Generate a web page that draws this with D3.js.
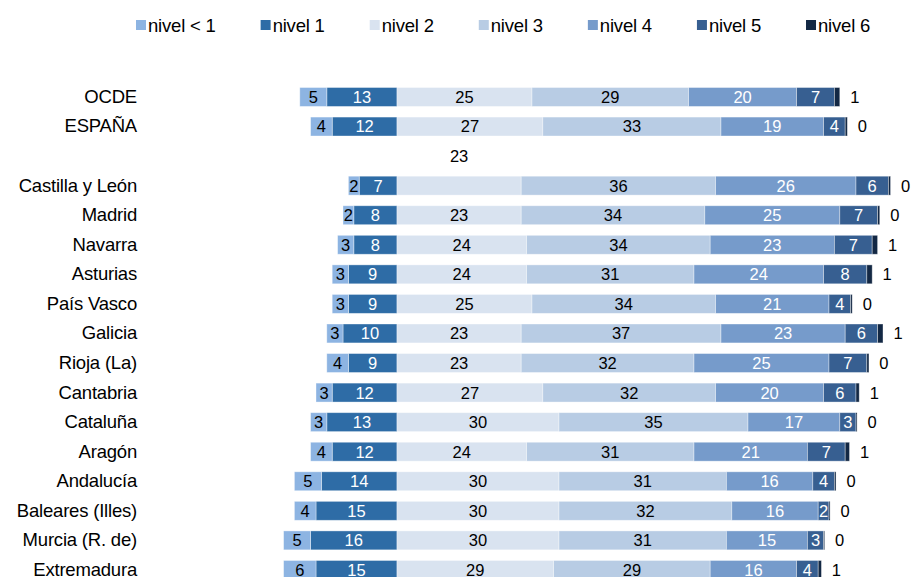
<!DOCTYPE html>
<html lang="es">
<head>
  <meta charset="UTF-8">
  <title>Niveles de rendimiento por comunidad</title>
  <script src="https://d3js.org/d3.v7.min.js"></script>
  <style>
    body { margin: 0; background: #fff; }
    text { font-family: "Liberation Sans", Arial, sans-serif; }
  </style>
</head>
<body>
<div id="chart"></div>
<script>
// rows (blank entry = empty gap row)
var regions = ["OCDE", "ESPAÑA", " ", "Castilla y León", "Madrid", "Navarra", "Asturias",
  "País Vasco", "Galicia", "Rioja (La)", "Cantabria", "Cataluña", "Aragón", "Andalucía",
  "Baleares (Illes)", "Murcia (R. de)", "Extremadura"];

var levels = ["nivel < 1", "nivel 1", "nivel 2", "nivel 3", "nivel 4", "nivel 5", "nivel 6"];

// percentage of students at each level, per row (null for the gap row)
var nivelMenos1 = [5, 4, null, 2, 2, 3, 3, 3, 3, 4, 3, 3, 4, 5, 4, 5, 6];
var nivel1      = [13, 12, null, 7, 8, 8, 9, 9, 10, 9, 12, 13, 12, 14, 15, 16, 15];
var nivel2      = [25, 27, null, 23, 23, 24, 24, 25, 23, 23, 27, 30, 24, 30, 30, 30, 29];
var nivel3      = [29, 33, null, 36, 34, 34, 31, 34, 37, 32, 32, 35, 31, 31, 32, 31, 29];
var nivel4      = [20, 19, null, 26, 25, 23, 24, 21, 23, 25, 20, 17, 21, 16, 16, 15, 16];
var nivel5      = [7, 4, null, 6, 7, 7, 8, 4, 6, 7, 6, 3, 7, 4, 2, 3, 4];
var nivel6      = [1, 0.4, null, 0.4, 0.4, 1, 1, 0.3, 1, 0.4, 0.6, 0.2, 0.8, 0.3, 0.2, 0.2, 0.6];

var colors = ["#8db4e2", "#2e6ca6", "#d9e3f0", "#b8cce4", "#769bcb", "#375f91", "#132844"];
var labelColors = ["#000", "#fff", "#000", "#000", "#fff", "#fff", "#000"];

var width = 913, height = 577;

var svg = d3.select("#chart").append("svg")
  .attr("width", width)
  .attr("height", height);

var series = [nivelMenos1, nivel1, nivel2, nivel3, nivel4, nivel5, nivel6];

var x = d3.scaleLinear()
  .domain([-20, 95])
  .range([397 - 20 * 5.4, 397 + 95 * 5.4]);

var y = d3.scaleBand()
  .domain(regions)
  .range([82.2, 82.2 + regions.length * 29.56])
  .paddingInner(0.36)
  .paddingOuter(0.18);

// build segments: levels < 1 and 1 go left of zero, the rest to the right
var segments = [];
regions.forEach(function(r, i) {
  if (nivel1[i] == null) return;
  var left = 0;
  for (var k = 1; k >= 0; k--) {
    var v = series[k][i];
    segments.push({ region: r, level: k, value: v, x0: left - v, x1: left });
    left -= v;
  }
  var right = 0;
  for (var k = 2; k < levels.length; k++) {
    var v = series[k][i];
    segments.push({ region: r, level: k, value: v, x0: right, x1: right + v });
    right += v;
  }
});

var g = svg.append("g");

g.selectAll("rect")
  .data(segments)
  .join("rect")
  .attr("x", d => x(d.x0))
  .attr("y", d => y(d.region))
  .attr("width", d => x(d.x1) - x(d.x0))
  .attr("height", y.bandwidth())
  .attr("fill", d => colors[d.level])
  .attr("stroke", "rgba(255,255,255,0.45)")
  .attr("stroke-width", 0.8);

// value labels
g.selectAll("text.val")
  .data(segments)
  .join("text")
  .attr("class", "val")
  .attr("x", function(d) {
    if (d.level == 6) return x(d.x1) + 15;
    return x((d.x0 + d.x1) / 2);
  })
  .attr("y", function(d) {
    // the Castilla y León level-2 label sits up in the empty row in the original
    if (d.region == "Castilla y León" && d.level == 2) return y(" ") + y.bandwidth() / 2;
    return y(d.region) + y.bandwidth() / 2;
  })
  .attr("dy", "0.36em")
  .attr("text-anchor", "middle")
  .attr("font-size", "16.5px")
  .attr("fill", d => labelColors[d.level])
  .text(d => Math.round(d.value));

// row labels
svg.append("g")
  .attr("transform", "translate(137,0)")
  .call(d3.axisLeft(y).tickSize(0).tickPadding(0))
  .call(ax => ax.select(".domain").remove())
  .selectAll("text")
  .attr("font-size", "18.5px")
  .attr("font-family", "Liberation Sans, Arial, sans-serif")
  .attr("letter-spacing", "-0.2px")
  .attr("fill", "#000");

// legend
var legend = svg.append("g").attr("transform", "translate(136,20)");
var lx = 0;
levels.forEach(function(name, i) {
  var item = legend.append("g").attr("transform", "translate(" + lx + ",0)");
  item.append("rect")
    .attr("width", 10)
    .attr("height", 10)
    .attr("fill", colors[i]);
  var t = item.append("text")
    .attr("x", 12)
    .attr("y", 5)
    .attr("dy", "0.36em")
    .attr("font-size", "18.5px")
    .attr("letter-spacing", "-0.2px")
    .text(name);
  lx += 12 + t.node().getComputedTextLength() + 45;
});
</script>
</body>
</html>
